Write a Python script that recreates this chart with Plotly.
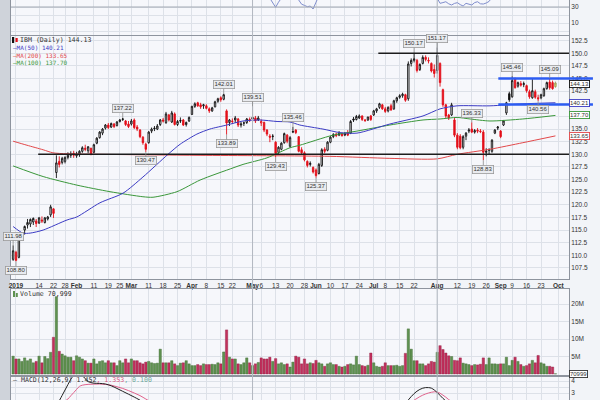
import pandas as pd
import plotly.graph_objects as go

# ---------------- data ----------------
HOLIDAYS = ["2019-01-01", "2019-01-21", "2019-02-18", "2019-04-19",
            "2019-05-27", "2019-07-04", "2019-09-02"]
dates = [d.strftime("%Y-%m-%d") for d in pd.bdate_range("2018-12-31", "2019-09-30")
         if d.strftime("%Y-%m-%d") not in HOLIDAYS]
N = len(dates)
sessions = list(range(N))

tick_dates = ["2019-01-02", "2019-01-14", "2019-01-22", "2019-01-28", "2019-02-01", "2019-02-11",
              "2019-02-19", "2019-02-25", "2019-03-01", "2019-03-11", "2019-03-18", "2019-03-25",
              "2019-04-01", "2019-04-08", "2019-04-15", "2019-04-22", "2019-05-01", "2019-05-06",
              "2019-05-13", "2019-05-20", "2019-05-28", "2019-06-03", "2019-06-10", "2019-06-17",
              "2019-06-24", "2019-07-01", "2019-07-08", "2019-07-15", "2019-07-22", "2019-08-01",
              "2019-08-12", "2019-08-19", "2019-08-26", "2019-09-03", "2019-09-09", "2019-09-16",
              "2019-09-23", "2019-10-01"]
tick_labels = ["<b>2019</b>", "14", "22", "28", "<b>Feb</b>", "11", "19", "25", "<b>Mar</b>", "11",
               "18", "25", "<b>Apr</b>", "8", "15", "22", "<b>May</b>", "6", "13", "20", "28",
               "<b>Jun</b>", "10", "17", "24", "<b>Jul</b>", "8", "15", "22", "<b>Aug</b>", "12",
               "19", "26", "<b>Sep</b>", "9", "16", "23", "<b>Oct</b>"]
dark_grid_dates = ["2019-05-01", "2019-08-01"]

# price axis ticks (labels hidden where the reference covers them with value boxes)
price_ticks = [107.5, 110.0, 112.5, 115.0, 117.5, 120.0, 122.5, 125.0, 127.5, 130.0, 132.5,
               135.0, 137.5, 140.0, 142.5, 145.0, 147.5, 150.0, 152.5]
price_hidden = [137.5, 140.0]

opens = [109.2, 110.6, 109.6, 113.4, 115.0, 116.0, 116.2, 116.6, 116.8, 116.4,
         117.0, 116.5, 117.2, 118.0, 119.2, 126.4, 128.6, 128.4, 128.6, 129.4,
         129.8, 130.2, 129.7, 129.9, 130.6, 131.2, 130.7, 131.2, 130.4, 132.2,
         133.3, 134.2, 135.2, 135.8, 135.4, 136.0, 135.7, 136.5, 136.9, 136.6,
         136.0, 136.0, 136.8, 135.4, 134.8, 133.4, 132.0, 132.3, 134.6, 135.2,
         135.0, 135.9, 136.8, 136.3, 137.8, 136.4, 138.0, 135.9, 136.7, 136.8,
         135.9, 136.6, 137.9, 139.5, 140.2, 139.8, 139.6, 139.6, 139.0, 138.6,
         139.4, 140.5, 141.2, 140.9, 138.6, 136.3, 136.6, 136.8, 137.0, 135.8,
         136.2, 136.3, 136.9, 137.0, 137.2, 136.8, 136.2, 136.3, 134.8, 133.6,
         133.5, 132.4, 130.4, 131.0, 132.3, 133.8, 131.6, 134.4, 134.8, 133.5,
         130.9, 130.3, 128.6, 128.0, 127.4, 126.9, 126.2, 127.8, 131.0, 130.8,
         132.4, 133.5, 134.0, 133.8, 134.0, 133.8, 134.3, 134.2, 137.0, 136.9,
         137.2, 137.6, 136.8, 136.8, 137.6, 137.8, 138.6, 139.3, 139.8, 139.0,
         138.6, 139.6, 139.0, 140.6, 141.3, 141.6, 141.8, 141.0, 148.0, 148.6,
         148.6, 146.8, 148.0, 149.2, 148.6, 148.0, 146.8, 146.6, 148.0, 142.8,
         139.8, 137.8, 137.8, 136.8, 133.8, 133.6, 131.4, 133.6, 134.6, 135.0,
         134.4, 134.8, 134.6, 134.4, 130.4, 130.8, 130.6, 134.2, 135.2, 134.6,
         135.8, 138.2, 142.0, 141.4, 145.0, 143.5, 144.0, 143.8, 143.6, 142.4,
         141.2, 142.4, 141.2, 141.2, 141.6, 143.0, 144.3, 144.2, 143.4]
highs = [111.98, 110.9, 113.6, 114.6, 115.9, 117.2, 117.3, 117.5, 117.2, 117.6,
         117.7, 117.6, 117.8, 120.0, 119.3, 129.8, 129.6, 129.5, 129.6, 130.4,
         130.6, 130.7, 130.5, 130.8, 131.6, 131.9, 131.6, 131.3, 132.1, 133.4,
         134.6, 135.2, 136.0, 136.2, 136.3, 136.2, 136.6, 137.0, 137.22, 136.8,
         136.6, 137.0, 137.1, 135.8, 135.0, 133.6, 132.3, 134.6, 135.3, 135.6,
         136.0, 137.0, 137.2, 138.4, 138.0, 138.6, 138.3, 136.8, 137.3, 137.0,
         136.5, 137.5, 139.6, 140.3, 140.4, 140.2, 140.0, 139.9, 139.3, 139.4,
         140.6, 141.2, 141.5, 142.01, 138.9, 137.0, 137.1, 137.6, 137.2, 136.4,
         136.5, 137.2, 137.3, 139.51, 137.6, 137.6, 136.9, 136.5, 135.0, 134.0,
         134.0, 132.6, 131.6, 132.4, 134.3, 134.0, 133.6, 135.46, 135.0, 133.6,
         131.4, 130.6, 128.8, 128.6, 127.6, 127.2, 128.3, 131.2, 131.4, 132.6,
         133.6, 134.2, 134.3, 134.6, 134.3, 134.4, 134.8, 136.8, 137.4, 137.8,
         137.9, 137.7, 137.0, 137.4, 137.8, 138.8, 139.2, 140.2, 140.0, 139.4,
         139.5, 140.0, 140.8, 141.4, 141.9, 142.2, 142.0, 148.4, 149.0, 150.17,
         148.9, 148.0, 149.6, 149.6, 149.2, 148.2, 147.8, 151.17, 148.2, 143.0,
         140.0, 138.0, 140.2, 137.2, 134.2, 134.0, 133.8, 134.4, 135.2, 136.33,
         135.0, 135.2, 135.0, 134.8, 131.2, 131.2, 133.0, 135.0, 135.6, 134.8,
         136.8, 140.4, 142.4, 145.46, 145.2, 144.4, 144.5, 144.4, 143.8, 142.8,
         144.9, 142.8, 141.8, 142.0, 143.2, 144.4, 145.09, 144.6, 144.4]
lows = [108.9, 108.80, 109.4, 112.9, 114.1, 115.3, 115.6, 116.0, 115.6, 116.2,
        116.4, 116.3, 116.9, 117.6, 117.4, 125.3, 127.4, 128.0, 128.2, 129.0,
        129.3, 129.3, 129.3, 129.5, 130.3, 130.6, 130.2, 129.8, 130.2, 132.0,
        133.1, 133.8, 134.9, 135.0, 135.2, 135.2, 135.5, 136.3, 136.6, 135.6,
        135.2, 135.7, 135.0, 134.6, 133.2, 131.9, 130.47, 132.1, 134.2, 134.6,
        134.8, 135.6, 136.3, 136.0, 136.5, 136.2, 135.7, 135.6, 136.2, 135.6,
        135.5, 136.4, 137.8, 139.2, 139.4, 139.0, 139.0, 138.9, 138.2, 138.4,
        139.3, 140.2, 140.4, 140.7, 133.89, 135.6, 136.0, 136.2, 135.4, 135.3,
        135.6, 136.0, 136.4, 136.4, 136.2, 136.6, 135.6, 134.4, 133.6, 132.4,
        132.8, 129.43, 130.1, 130.8, 132.1, 132.2, 131.3, 134.2, 134.0, 130.4,
        130.0, 128.6, 127.4, 127.6, 126.2, 125.37, 126.0, 127.5, 130.2, 130.6,
        132.2, 133.2, 133.4, 133.6, 133.5, 133.6, 133.6, 134.0, 136.4, 136.7,
        137.0, 136.6, 136.4, 136.6, 136.6, 137.6, 138.2, 139.0, 138.8, 138.2,
        138.3, 138.6, 138.8, 140.2, 141.0, 141.2, 140.4, 140.6, 147.4, 148.2,
        146.2, 146.5, 147.8, 148.4, 148.0, 146.2, 145.2, 146.0, 143.4, 139.4,
        137.2, 136.8, 137.6, 133.4, 131.0, 131.0, 131.0, 132.8, 134.2, 134.2,
        134.1, 134.2, 134.2, 128.83, 129.6, 130.0, 130.3, 134.0, 134.8, 133.2,
        135.6, 137.8, 140.4, 141.2, 143.0, 143.2, 143.4, 143.3, 142.2, 141.0,
        141.0, 141.0, 140.56, 140.9, 141.4, 142.8, 142.8, 142.8, 143.2]
closes = [110.9, 109.0, 113.3, 114.1, 115.7, 116.5, 117.1, 117.3, 116.3, 117.4,
          116.8, 117.4, 117.6, 119.6, 118.3, 128.3, 128.0, 129.2, 129.4, 129.8,
          130.0, 129.8, 130.0, 130.6, 131.3, 131.0, 131.5, 130.0, 131.9, 133.2,
          134.4, 135.0, 135.8, 135.3, 136.1, 135.5, 136.4, 136.8, 137.0, 135.9,
          135.5, 136.6, 135.3, 135.0, 133.5, 132.3, 131.0, 134.4, 135.0, 135.1,
          135.6, 136.8, 136.6, 138.0, 136.8, 138.2, 135.9, 136.5, 136.6, 135.8,
          136.3, 137.3, 139.5, 140.0, 139.6, 139.4, 139.8, 139.1, 138.6, 139.2,
          140.4, 141.0, 140.8, 141.8, 136.2, 136.8, 136.5, 137.2, 135.8, 136.0,
          136.2, 137.0, 136.8, 137.3, 136.6, 137.2, 136.5, 134.8, 134.0, 133.4,
          133.6, 130.2, 131.4, 132.2, 134.1, 132.6, 133.3, 134.5, 134.3, 130.6,
          130.3, 128.9, 127.8, 128.2, 126.5, 125.8, 128.0, 130.9, 130.6, 132.4,
          133.4, 133.9, 133.7, 134.2, 133.7, 134.1, 133.8, 136.5, 136.8, 137.5,
          137.6, 136.9, 136.7, 137.4, 136.9, 138.6, 139.0, 140.0, 139.0, 138.5,
          139.3, 138.8, 140.6, 141.2, 141.6, 141.9, 140.7, 147.9, 148.6, 148.9,
          146.6, 147.8, 149.2, 148.8, 148.5, 146.5, 146.0, 149.6, 144.2, 139.8,
          137.6, 137.2, 139.8, 133.8, 131.4, 131.3, 133.5, 134.2, 134.8, 134.4,
          134.7, 134.6, 134.5, 130.4, 130.6, 130.9, 132.8, 134.8, 135.4, 133.5,
          136.6, 140.2, 140.8, 144.6, 143.2, 144.2, 143.7, 144.0, 142.6, 141.4,
          142.6, 141.3, 141.0, 141.8, 143.0, 144.2, 143.2, 143.0, 144.13]
volume_m = [5.1, 4.3, 4.3, 3.6, 4.6, 3.8, 4.3, 3.2, 3.6, 5.1, 3.2, 5.0, 4.4, 6.2, 10.5, 22.1,
            6.5, 5.7, 5.2, 4.8, 4.8, 3.8,
            5.2, 4.8, 4.3, 3.8, 3.1, 3.1, 4.3, 2.9, 3.6, 3.8, 3.2, 3.8, 3.2, 3.2, 2.4, 3.8, 3.2, 4.3, 3.2,
            4.3, 3.8, 3.8, 3.2, 2.9, 3.4, 3.6, 3.2, 3.0, 3.1, 7.1, 3.2, 3.2, 3.2, 3.8, 2.9, 2.4, 3.1, 3.2, 3.8, 2.9,
            2.4, 2.4, 2.7, 2.4, 2.9, 2.7, 2.7, 2.8, 2.7, 3.2, 2.9, 6.3, 12.6, 4.8, 4.3, 4.3, 2.9, 2.7, 3.2, 4.6, 3.2,
            2.4, 2.9, 3.3, 4.6, 4.3, 4.3, 4.8, 3.6, 4.4, 2.9, 3.2, 2.7, 2.9, 2.0, 3.4, 5.1,
            4.8, 2.9, 4.3, 2.9, 3.2, 3.0, 3.9, 3.2, 2.9, 2.2, 2.9, 3.2,
            2.7, 2.7, 2.2, 2.0, 2.2, 2.7, 2.9, 2.6, 5.1, 2.7, 2.4, 2.2, 2.5, 6.0,
            3.2, 2.2, 2.0, 2.2, 3.2, 2.4, 2.4, 2.4, 2.5, 2.2, 2.4, 5.9,
            12.9, 7.1, 3.8, 3.8, 2.9, 2.9, 2.4, 2.9, 3.6, 3.4, 6.2, 8.1,
            7.0, 6.0, 5.2, 5.0, 3.9, 3.8, 4.6, 3.1, 2.9, 2.7, 2.4, 2.7, 2.6, 2.8, 4.6, 2.7, 4.6, 2.9, 2.9, 2.8,
            2.9, 2.9, 4.8, 2.4, 3.9, 4.8, 3.6, 2.7, 2.2, 2.4, 2.9, 3.9, 3.2, 5.3, 3.2, 2.9, 2.2, 2.2, 2.0, 0.070999]

# moving averages, read at sample sessions
ma50_s = [0, 3.4, 5.9, 10.4, 18.7, 22.1, 30.1, 38.1, 45, 53.7, 57.9, 63.7, 68.2, 74.1, 79.7, 85.6,
          91.5, 96, 99.4, 107.4, 113.3, 119.2, 130.6, 142.1, 148, 153.9, 165.3, 176.7, 188]
ma50_v = [115.7, 114.4, 114.4, 115.0, 117.0, 117.6, 120.4, 122.3, 125.5, 130.0, 132.0, 134.0, 135.0,
          135.8, 136.6, 136.8, 136.5, 136.4, 135.8, 135.0, 134.3, 134.2, 136.0, 137.6, 139.0, 139.6,
          139.6, 140.0, 140.21]
ma200_s = [0, 4.8, 10.4, 13.8, 18.7, 30.1, 64.8, 109.8, 130.6, 147, 153.9, 165.3, 176.7, 188]
ma200_v = [132.6, 131.8, 130.9, 130.3, 130.1, 130.0, 129.8, 129.6, 129.2, 129.1, 130.0, 131.0, 132.3, 133.65]
ma100_s = [0, 10.4, 22.1, 33.6, 45, 48.5, 56.8, 64.8, 76.2, 79.7, 88, 96, 99.4, 110.9, 119.2, 130.6,
           142.1, 148, 153.9, 158.4, 165.3, 176.7, 188]
ma100_v = [127.7, 125.6, 123.9, 122.6, 121.6, 121.5, 122.6, 124.9, 127.3, 128.0, 129.3, 131.3, 131.8,
           133.8, 134.6, 135.8, 136.8, 137.0, 137.3, 137.0, 136.6, 137.0, 137.7]

# RSI(14): only the dips into the visible strip of the top panel
rsi_s = [89, 90, 91, 92, 93, None,
         99, 100, 101, 102, 103, 104, 105, 106, None,
         147, 148, 149, 150, 151, 152, 153, 154, 155, 156, 157, 158, 159, 160, 161, 162, 163, 164, 165, 166]
rsi_v = [41, 34.5, 29.6, 36, 41, None,
         38.75, 33.5, 32, 30.4, 31.2, 27.5, 36, 44, None,
         41, 34.6, 35.5, 36.6, 34, 32.5, 34.5, 35.4, 33, 31.2, 34.6, 33.5, 32.5, 35.5, 36.6, 34, 33.7, 35, 37, 42]

# MACD(12,26,9): parts visible in the cropped bottom strip
macd_s = [16, 17, 18, 19, 20, 21, 22, 23, 24, 25, 26, 28, 30, 32, 34, 36, 38, 40, 42, 44, None,
          137, 138, 139, 140, 141, 142, 143, 144, 145, 146, 147, 148, 149, 150]
macd_v = [2.35, 2.8, 3.25, 3.7, 4.15, 4.45, 4.6, 4.6, 4.45, 4.2, 3.95, 3.82, 3.8, 3.75, 3.6, 3.38,
          3.14, 2.9, 2.66, 2.4, None,
          2.42, 2.7, 2.95, 3.15, 3.3, 3.4, 3.45, 3.45, 3.4, 3.25, 3.05, 2.8, 2.55, 2.35]
signal_s = [18, 19, 20, 21, 22, 23, 24, 26, 28, 30, 32, 34, 36, 38, 40, 42, 44, 46, 47, None,
            139, 140, 141, 142, 143, 144, 145, 146, 147, 148, 149, 150, 151, 152]
signal_v = [2.35, 2.5, 2.77, 3.03, 3.3, 3.55, 3.65, 3.72, 3.74, 3.75, 3.72, 3.65, 3.52, 3.38, 3.2,
            3.0, 2.78, 2.5, 2.36, None,
            2.4, 2.55, 2.7, 2.82, 2.92, 3.0, 3.06, 3.1, 3.08, 2.98, 2.82, 2.65, 2.45, 2.3]
macd_last, signal_last, hist_last = 1.452, 1.353, 0.100

# labelled swing highs / lows (session, 'H'/'L')
swing_marks = [(0, "H"), (1, "L"), (38, "H"), (46, "L"), (73, "H"), (74, "L"), (83, "H"), (91, "L"),
               (97, "H"), (105, "L"), (139, "H"), (147, "H"), (159, "H"), (163, "L"), (173, "H"),
               (182, "L"), (186, "H")]
# drawn trendlines: (start session, price level)
black_lines = [(8.7, 130.0), (126.6, 150.0)]
blue_lines = [(168.2, 145.0), (168.2, 139.85)]
blue_end_session = 201.0

assert len(dates) == 189
for arr in (opens, highs, lows, closes, volume_m):
    assert len(arr) == N

# ---------------- geometry / style ----------------
W, H = 600, 400
ML, MR = 11, 31
PW = W - ML - MR
XR = [-0.73, 192.7]
PLOT_BG = "#f6f7fb"
PAPER_BG = "#f2f4f8"
GRID = "#dde1e8"
BORDER = "#8e949e"
TXT = "#333333"
FONT = "Liberation Sans, Arial, sans-serif"
MONO = "DejaVu Sans Mono, monospace"


def px_x(px):
    return (px - ML) / PW


def py_y(py):
    return 1 - py / H


def sess_paper(s):
    return (s - XR[0]) / (XR[1] - XR[0])


def pos_of(d):
    return dates.index(d) if d in dates else N


tick_pos = [pos_of(d) for d in tick_dates]

fig = go.Figure()

# candles coloured by change vs previous close (black = up, red = down)
up_i = [i for i in range(N - 1) if i == 0 or closes[i] >= closes[i - 1]]
dn_i = [i for i in range(N - 1) if i > 0 and closes[i] < closes[i - 1]]


def pick(arr, idx):
    return [arr[i] for i in idx]


for idx, col in ((up_i, "#111111"), (dn_i, "#e3101a")):
    fig.add_trace(go.Candlestick(
        x=pick(sessions, idx), open=pick(opens, idx), high=pick(highs, idx),
        low=pick(lows, idx), close=pick(closes, idx),
        increasing=dict(line=dict(color=col, width=0.9), fillcolor=PLOT_BG),
        decreasing=dict(line=dict(color=col, width=0.9), fillcolor=col),
        whiskerwidth=0, xaxis="x2", yaxis="y2", showlegend=False, hoverinfo="skip"))
# latest (live) session in yellow
fig.add_trace(go.Candlestick(
    x=[sessions[-1]], open=[opens[-1]], high=[highs[-1]], low=[lows[-1]], close=[closes[-1]],
    increasing=dict(line=dict(color="#9a9a60", width=0.9), fillcolor="#f4e84a"),
    decreasing=dict(line=dict(color="#9a9a60", width=0.9), fillcolor="#f4e84a"),
    whiskerwidth=0, xaxis="x2", yaxis="y2", showlegend=False, hoverinfo="skip"))

MA_COL = {"50": "#3b3bc4", "200": "#e2484a", "100": "#3a973a"}
for s, v, key in ((ma200_s, ma200_v, "200"), (ma100_s, ma100_v, "100"), (ma50_s, ma50_v, "50")):
    fig.add_trace(go.Scatter(x=s, y=v, mode="lines", xaxis="x2", yaxis="y2",
                             line=dict(color=MA_COL[key], width=1, shape="spline", smoothing=0.7),
                             showlegend=False, hoverinfo="skip"))

# volume
vol_cols = ["#5f9150" if (i == 0 or closes[i] >= closes[i - 1]) else "#c2305c" for i in range(N)]
vol_edge = ["#3f6a33" if c == "#5f9150" else "#8e1f42" for c in vol_cols]
fig.add_trace(go.Bar(x=sessions, y=volume_m, marker=dict(color=vol_cols, line=dict(color=vol_edge, width=0.4)),
                     width=0.82, xaxis="x3", yaxis="y3", showlegend=False, hoverinfo="skip"))

# RSI
fig.add_trace(go.Scatter(x=rsi_s, y=rsi_v, mode="lines", xaxis="x", yaxis="y",
                         line=dict(color="#7f8dcc", width=1), connectgaps=False,
                         showlegend=False, hoverinfo="skip"))
# MACD
fig.add_trace(go.Scatter(x=signal_s, y=signal_v, mode="lines", xaxis="x4", yaxis="y4",
                         line=dict(color="#e0628c", width=1, shape="spline"), connectgaps=False,
                         showlegend=False, hoverinfo="skip"))
fig.add_trace(go.Scatter(x=macd_s, y=macd_v, mode="lines", xaxis="x4", yaxis="y4",
                         line=dict(color="#222222", width=1, shape="spline"), connectgaps=False,
                         showlegend=False, hoverinfo="skip"))

# ---------------- axes ----------------
tfont = dict(family=FONT, size=6.5, color=TXT)
xbase = dict(range=XR, tickvals=tick_pos, ticktext=tick_labels, tickangle=0, showgrid=True,
             gridcolor=GRID, gridwidth=1, zeroline=False, showline=True, linecolor=BORDER,
             linewidth=1, ticks="", fixedrange=True, tickfont=tfont)
ybase = dict(side="right", showgrid=True, gridcolor=GRID, gridwidth=1, zeroline=False,
             showline=True, linecolor=BORDER, linewidth=1, mirror=True, ticks="",
             fixedrange=True, tickfont=tfont)

layout = dict(
    width=W, height=H, margin=dict(l=ML, r=MR, t=0, b=0, pad=0),
    paper_bgcolor=PAPER_BG, plot_bgcolor=PLOT_BG, showlegend=False,
    xaxis=dict(xbase, anchor="y", showticklabels=False, matches="x2"),
    xaxis2=dict(xbase, anchor="y2", showticklabels=True, mirror=True, rangeslider=dict(visible=False)),
    xaxis3=dict(xbase, anchor="y3", showticklabels=False, mirror=True, matches="x2"),
    xaxis4=dict(xbase, anchor="y4", showticklabels=False, side="top", matches="x2"),
    yaxis=dict(ybase, anchor="x", domain=[py_y(35), 1], range=[-5, 38.75],
               tickvals=[0, 10, 20, 30], ticktext=["", "10", "", "30"]),
    yaxis2=dict(ybase, anchor="x2", domain=[py_y(279), py_y(36)], range=[105.31, 153.43],
                tickvals=price_ticks,
                ticktext=["" if t in price_hidden else f"{t:.1f}" for t in price_ticks]),
    yaxis3=dict(ybase, anchor="x3", domain=[py_y(375), py_y(289)], range=[-0.29, 24.29],
                tickvals=[5, 10, 15, 20], ticktext=["5M", "10M", "15M", "20M"]),
    yaxis4=dict(ybase, anchor="x4", domain=[0, py_y(377)], range=[2.417, 4.333],
                tickvals=[3, 3.5, 4], ticktext=["3", "", "4"]),
)
fig.update_layout(**layout)

# ---------------- shapes ----------------
shapes = []
shapes.append(dict(type="rect", xref="paper", yref="paper", x0=px_x(0), x1=px_x(10), y0=0, y1=1,
                   fillcolor="#cfd3da", line=dict(width=0), layer="below"))
shapes.append(dict(type="line", xref="paper", yref="y", x0=0, x1=1, y0=30, y1=30,
                   line=dict(color="#a2a8b2", width=1)))
for d in dark_grid_dates:
    p = pos_of(d)
    shapes.append(dict(type="line", xref="x2", yref="paper", x0=p, x1=p, y0=0, y1=1,
                       line=dict(color="#b3b8c1", width=1)))
for s0, lvl in black_lines:
    shapes.append(dict(type="line", xref="x2", yref="y2", x0=s0, x1=XR[1], y0=lvl, y1=lvl,
                       line=dict(color="#1c1c1c", width=1.6)))
for s0, lvl in blue_lines:
    shapes.append(dict(type="line", xref="paper", yref="y2", x0=sess_paper(s0),
                       x1=sess_paper(blue_end_session), y0=lvl, y1=lvl,
                       line=dict(color="#2c5cf2", width=2.5)))
# legend icons
shapes.append(dict(type="rect", xref="paper", yref="paper", x0=px_x(12), x1=px_x(14.2),
                   y0=py_y(43), y1=py_y(37), fillcolor="#111", line=dict(width=0)))
shapes.append(dict(type="rect", xref="paper", yref="paper", x0=px_x(15.5), x1=px_x(17.7),
                   y0=py_y(42), y1=py_y(38), fillcolor="#e3101a", line=dict(width=0)))
shapes.append(dict(type="rect", xref="paper", yref="paper", x0=px_x(13), x1=px_x(15),
                   y0=py_y(297), y1=py_y(291), fillcolor="#5f9150", line=dict(width=0)))
shapes.append(dict(type="rect", xref="paper", yref="paper", x0=px_x(15.8), x1=px_x(17.8),
                   y0=py_y(297), y1=py_y(293), fillcolor="#5f9150", line=dict(width=0)))
fig.update_layout(shapes=shapes)

# ---------------- annotations ----------------
ann = []
for s, kind in swing_marks:
    val = highs[s] if kind == "H" else lows[s]
    ann.append(dict(x=s, y=val, xref="x2", yref="y2", text=f"{val:.2f}", showarrow=True,
                    arrowhead=0, arrowwidth=0.8, arrowcolor="#8a8a8a", ax=0,
                    ay=-9 if kind == "H" else 9, bgcolor="#e9ebef", bordercolor="#9a9a9a",
                    borderwidth=0.8, borderpad=0.6, font=dict(family=FONT, size=6, color=TXT)))

for val, col, shift in ((closes[-1], "#111111", -1.5), (ma50_v[-1], MA_COL["50"], 0),
                        (ma100_v[-1], MA_COL["100"], 0), (ma200_v[-1], MA_COL["200"], 0)):
    ann.append(dict(x=1.0, y=val, xref="paper", yref="y2", xanchor="left", yanchor="middle",
                    text=f"{val:.2f}", showarrow=False, bgcolor="#ffffff", bordercolor=col,
                    borderwidth=0.9, borderpad=0, yshift=shift,
                    font=dict(family=FONT, size=6, color=TXT)))
vol_last = round(volume_m[-1] * 1e6)
ann.append(dict(x=1.0, y=0, xref="paper", yref="y3", xanchor="left", yanchor="middle",
                text=f"{vol_last}", showarrow=False, bgcolor="#ffffff", bordercolor="#333",
                borderwidth=0.9, borderpad=0, font=dict(family=FONT, size=6, color=TXT)))


def legend(px, py, text, color=TXT, size=6.6):
    ann.append(dict(x=px_x(px), y=py_y(py), xref="paper", yref="paper", xanchor="left",
                    yanchor="middle", text=text, showarrow=False, borderpad=0,
                    font=dict(family=MONO, size=size, color=color)))


legend(19, 40.3, f"IBM (Daily) {closes[-1]:.2f}")
legend(12, 47.8, f"—MA(50) {ma50_v[-1]:.2f}", MA_COL["50"], 6.0)
legend(12, 55.1, f"—MA(200) {ma200_v[-1]:.2f}", MA_COL["200"], 6.0)
legend(12, 62.4, f"—MA(100) {ma100_v[-1]:.2f}", MA_COL["100"], 6.0)
legend(19, 294, f"Volume {vol_last:,}")
legend(12, 379.5, f"— MACD(12,26,9) {macd_last:.3f}"
       f"<span style='color:#d9577f'>, {signal_last:.3f}</span>"
       f"<span style='color:#6fa89c'>, {hist_last:.3f}</span>")
fig.update_layout(annotations=ann)

fig.write_html("out.html", config={"displayModeBar": False, "staticPlot": True})
